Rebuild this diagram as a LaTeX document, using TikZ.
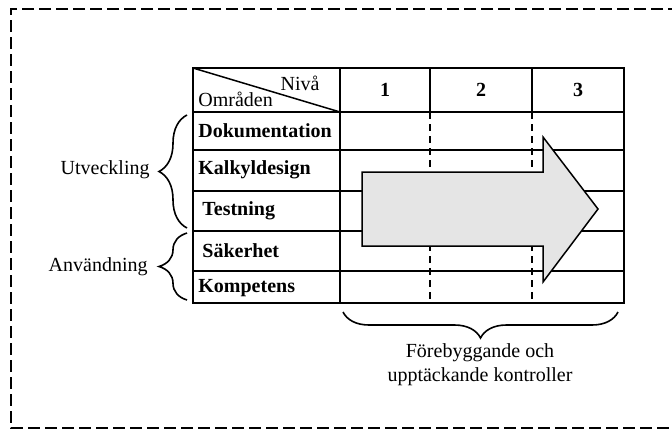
\documentclass[tikz,border=0pt]{standalone}
\usepackage{fontspec}
\setmainfont{Liberation Serif}
\usetikzlibrary{decorations.pathreplacing,positioning,calc}

\begin{document}
\begin{tikzpicture}
[x=0.5pt,y=-0.5pt,
gridline/.style={line width=0.75pt},
dashcol/.style={line width=0.75pt,dash pattern=on 3.5pt off 2.5pt},
rowhead/.style={anchor=west,font=\bfseries,inner sep=0pt},
colhead/.style={font=\bfseries,inner sep=0pt},
sidelabel/.style={anchor=east,inner sep=0pt},
curly/.style={decorate,decoration={brace,amplitude=#1},line width=0.8pt},
pil/.style={draw,line width=0.75pt,fill=black!10,line join=miter}]
\useasboundingbox (0,0) rectangle (672,429);
% outer frame, open to the right
\draw [line width=0.6pt,dash pattern=on 6pt off 2.5pt] (680,9) -- (11,9) -- (11,428) -- (680,428);
% table
\draw [gridline] (193,68) rectangle (624,303);
\foreach \y in {112,150,191,231,271}
  \draw [gridline] (193,\y) -- (624,\y);
\draw [gridline] (340,68) -- (340,303);
\draw [gridline] (430,68) -- (430,112);
\draw [gridline] (532,68) -- (532,112);
\draw [dashcol] (430,112) -- (430,303);
\draw [dashcol] (532,112) -- (532,303);
\draw [gridline] (193,68) -- (340,112);
\node [anchor=east,inner sep=0pt] (niva) at (320,83) {Nivå};
\node [anchor=west,inner sep=0pt] (omraden) at (198,99) {Områden};
\node [colhead] (n1) at (385,90) {1};
\node [colhead] (n2) at (481,90) {2};
\node [colhead] (n3) at (578,90) {3};
\node [rowhead] (dok) at (198,131) {Dokumentation};
\node [rowhead] (kalk) at (198,170) {Kalkyldesign};
\node [rowhead] (test) at (202,211) {Testning};
\node [rowhead] (sak) at (202,251) {Säkerhet};
\node [rowhead] (komp) at (198,288) {Kompetens};
% the big arrow
\draw [pil] (362,172) -- (543,172) -- (543,137) -- (598,209) -- (543,282)
  -- (543,246) -- (362,246) -- cycle;
% braces
\coordinate (u1) at (187,115);
\coordinate (u2) at (187,228);
\coordinate (a1) at (187,233);
\coordinate (a2) at (187,300);
\coordinate (k1) at (343,312);
\coordinate (k2) at (618,312);
\draw [curly=14pt] (u2) -- (u1);
\draw [curly=14pt] (a2) -- (a1);
\draw [curly=13pt] (k2) -- (k1);
\node [sidelabel] (utv) at (150,170) {Utveckling};
\node [sidelabel] (anv) at (148,267) {Användning};
\node [align=center,inner sep=0pt] (kontr) at (480,365)
  {Förebyggande och\\upptäckande kontroller};
\end{tikzpicture}
\end{document}
